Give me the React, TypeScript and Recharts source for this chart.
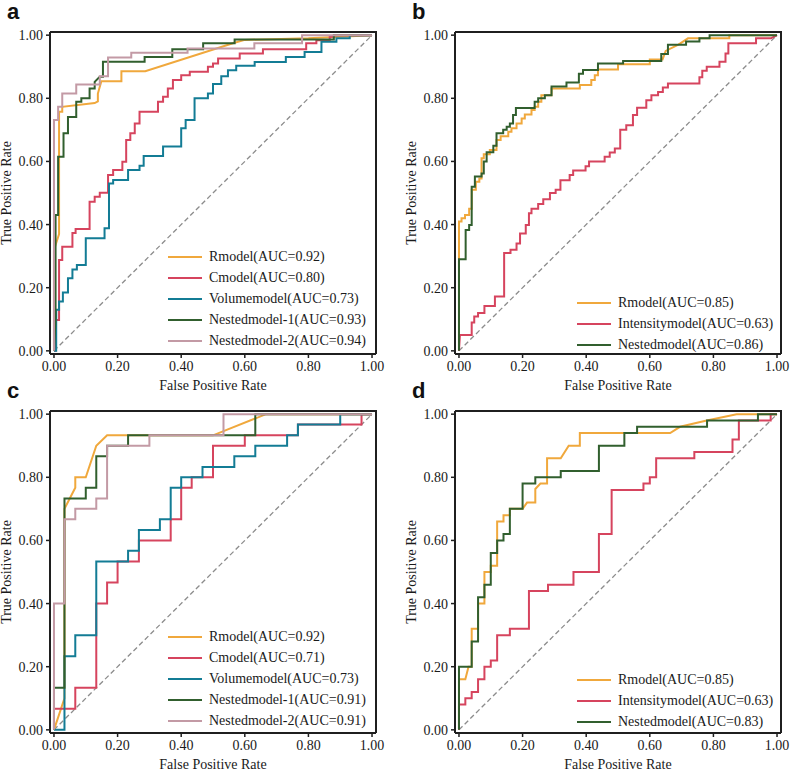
import { Legend, Line, LineChart, ReferenceLine, XAxis, YAxis } from 'recharts'

type Pt = [number, number]

const SERIF = '"Liberation Serif", "Times New Roman", serif'
const SANS = '"Liberation Sans", Arial, sans-serif'

const AXIS_TICKS = [0, 0.2, 0.4, 0.6, 0.8, 1]

// colours of the models (same across the four panels)
const ORANGE = '#F0A83C'
const RED = '#D6445E'
const TEAL = '#137C95'
const GREEN = '#315F2E'
const PINK = '#C39AA5'

// ---- panel a : training set, five models (fpr, tpr)
const rmodelA: Pt[] = [
  [0, 0], [0, 0.32], [0.016, 0.37], [0.016, 0.757], [0.026, 0.757], [0.026, 0.773],
  [0.128, 0.785], [0.138, 0.79], [0.138, 0.815], [0.149, 0.854], [0.212, 0.854],
  [0.212, 0.886], [0.287, 0.886], [0.565, 0.975], [0.6, 0.985], [0.8, 0.99], [1, 1],
]
const cmodelA: Pt[] = [
  [0, 0], [0.005, 0], [0.005, 0.098], [0.016, 0.098], [0.016, 0.288], [0.026, 0.288],
  [0.026, 0.33], [0.058, 0.33], [0.058, 0.373], [0.068, 0.373], [0.068, 0.386],
  [0.112, 0.386], [0.112, 0.472], [0.128, 0.472], [0.128, 0.488], [0.144, 0.488],
  [0.144, 0.501], [0.17, 0.501], [0.17, 0.557], [0.186, 0.557], [0.186, 0.573],
  [0.215, 0.573], [0.215, 0.599], [0.227, 0.599], [0.227, 0.668], [0.24, 0.668],
  [0.24, 0.689], [0.254, 0.689], [0.254, 0.72], [0.269, 0.72], [0.269, 0.757],
  [0.327, 0.757], [0.327, 0.789], [0.343, 0.789], [0.343, 0.805], [0.358, 0.805],
  [0.358, 0.831], [0.374, 0.831], [0.374, 0.858], [0.4, 0.858], [0.4, 0.873],
  [0.427, 0.873], [0.427, 0.884], [0.484, 0.884], [0.484, 0.9], [0.5, 0.9], [0.5, 0.91],
  [0.516, 0.91], [0.516, 0.926], [0.584, 0.926], [0.584, 0.942], [0.657, 0.942],
  [0.657, 0.955], [0.793, 0.955], [0.793, 0.974], [0.825, 0.974], [0.825, 0.984],
  [0.867, 0.984], [0.867, 0.995], [0.88, 0.995], [0.88, 1], [1, 1],
]
const volumeA: Pt[] = [
  [0, 0], [0.007, 0], [0.007, 0.13], [0.016, 0.13], [0.016, 0.156], [0.028, 0.156],
  [0.028, 0.185], [0.044, 0.185], [0.044, 0.23], [0.058, 0.23], [0.058, 0.258],
  [0.072, 0.258], [0.072, 0.272], [0.1, 0.272], [0.1, 0.357], [0.159, 0.357],
  [0.159, 0.388], [0.173, 0.388], [0.173, 0.53], [0.186, 0.53], [0.186, 0.541],
  [0.233, 0.541], [0.233, 0.573], [0.269, 0.573], [0.269, 0.586], [0.282, 0.586],
  [0.282, 0.617], [0.343, 0.617], [0.343, 0.647], [0.4, 0.647], [0.4, 0.705],
  [0.414, 0.705], [0.414, 0.731], [0.442, 0.731], [0.442, 0.8], [0.484, 0.8],
  [0.484, 0.815], [0.5, 0.815], [0.5, 0.845], [0.526, 0.845], [0.526, 0.87],
  [0.547, 0.87], [0.547, 0.889], [0.573, 0.889], [0.573, 0.903], [0.631, 0.903],
  [0.631, 0.915], [0.729, 0.915], [0.729, 0.931], [0.788, 0.931], [0.788, 0.947],
  [0.841, 0.947], [0.841, 0.979], [0.888, 0.979], [0.888, 0.99], [0.93, 0.99],
  [0.93, 1], [1, 1],
]
const nested1A: Pt[] = [
  [0, 0], [0.005, 0.1], [0.005, 0.43], [0.013, 0.43], [0.013, 0.615], [0.03, 0.615],
  [0.03, 0.689], [0.044, 0.689], [0.044, 0.741], [0.07, 0.741], [0.07, 0.789],
  [0.086, 0.789], [0.086, 0.8], [0.112, 0.8], [0.112, 0.831], [0.128, 0.831],
  [0.128, 0.852], [0.144, 0.868], [0.154, 0.868], [0.154, 0.916], [0.285, 0.916],
  [0.285, 0.931], [0.372, 0.931], [0.372, 0.955], [0.469, 0.955], [0.469, 0.974],
  [0.568, 0.974], [0.568, 0.986], [0.88, 0.986], [0.88, 1], [1, 1],
]
const nested2A: Pt[] = [
  [0, 0], [0, 0.731], [0.013, 0.731], [0.013, 0.773], [0.026, 0.773], [0.026, 0.815],
  [0.07, 0.815], [0.07, 0.844], [0.144, 0.844], [0.144, 0.87], [0.17, 0.87],
  [0.17, 0.929], [0.243, 0.929], [0.243, 0.944], [0.42, 0.944], [0.42, 0.958],
  [0.63, 0.958], [0.63, 0.974], [0.78, 0.974], [0.78, 1], [1, 1],
]

// ---- panel b : training set, three models
const rmodelB: Pt[] = [
  [0, 0], [0, 0.41], [0.008, 0.41], [0.008, 0.42], [0.019, 0.42], [0.019, 0.43],
  [0.032, 0.43], [0.032, 0.45], [0.04, 0.45], [0.04, 0.51], [0.053, 0.51],
  [0.053, 0.536], [0.064, 0.536], [0.064, 0.546], [0.071, 0.546], [0.071, 0.61],
  [0.078, 0.61], [0.078, 0.623], [0.097, 0.623], [0.097, 0.636], [0.118, 0.636],
  [0.118, 0.668], [0.131, 0.668], [0.131, 0.68], [0.155, 0.68], [0.155, 0.694],
  [0.165, 0.694], [0.165, 0.705], [0.181, 0.705], [0.181, 0.72], [0.197, 0.72],
  [0.197, 0.736], [0.207, 0.736], [0.207, 0.749], [0.228, 0.749], [0.228, 0.763],
  [0.238, 0.763], [0.238, 0.773], [0.249, 0.773], [0.249, 0.789], [0.259, 0.789],
  [0.259, 0.81], [0.291, 0.81], [0.291, 0.831], [0.38, 0.831], [0.38, 0.842],
  [0.416, 0.842], [0.416, 0.858], [0.427, 0.858], [0.427, 0.873], [0.437, 0.873],
  [0.437, 0.891], [0.5, 0.891], [0.5, 0.908], [0.6, 0.908], [0.6, 0.923],
  [0.64, 0.923], [0.65, 0.95], [0.69, 0.97], [0.72, 0.99], [0.85, 0.99], [0.85, 1], [1, 1],
]
const intensityB: Pt[] = [
  [0, 0], [0.003, 0.05], [0.04, 0.05], [0.04, 0.09], [0.048, 0.09], [0.048, 0.109],
  [0.06, 0.109], [0.06, 0.12], [0.08, 0.12], [0.08, 0.142], [0.113, 0.142],
  [0.113, 0.172], [0.142, 0.172], [0.142, 0.31], [0.162, 0.31], [0.162, 0.32],
  [0.181, 0.32], [0.181, 0.34], [0.192, 0.34], [0.192, 0.372], [0.21, 0.372],
  [0.21, 0.399], [0.22, 0.399], [0.22, 0.436], [0.228, 0.436], [0.228, 0.45],
  [0.249, 0.45], [0.249, 0.465], [0.265, 0.465], [0.265, 0.48], [0.286, 0.48],
  [0.286, 0.5], [0.304, 0.5], [0.304, 0.51], [0.319, 0.51], [0.319, 0.54],
  [0.348, 0.54], [0.348, 0.557], [0.359, 0.557], [0.359, 0.571], [0.398, 0.571],
  [0.398, 0.585], [0.409, 0.585], [0.409, 0.6], [0.458, 0.6], [0.458, 0.615],
  [0.474, 0.615], [0.474, 0.628], [0.49, 0.628], [0.49, 0.641], [0.507, 0.641],
  [0.507, 0.7], [0.526, 0.7], [0.526, 0.715], [0.547, 0.715], [0.547, 0.747],
  [0.56, 0.747], [0.56, 0.77], [0.589, 0.77], [0.589, 0.794], [0.605, 0.794],
  [0.605, 0.81], [0.626, 0.81], [0.626, 0.82], [0.641, 0.82], [0.641, 0.834],
  [0.657, 0.834], [0.657, 0.847], [0.756, 0.847], [0.756, 0.867], [0.765, 0.867],
  [0.765, 0.887], [0.779, 0.887], [0.779, 0.9], [0.819, 0.9], [0.819, 0.916],
  [0.838, 0.916], [0.838, 0.942], [0.847, 0.942], [0.847, 0.974], [0.934, 0.974],
  [0.934, 0.99], [0.981, 0.99], [1, 1],
]
const nestedB: Pt[] = [
  [0, 0], [0, 0.29], [0.021, 0.29], [0.021, 0.383], [0.032, 0.383], [0.032, 0.399],
  [0.04, 0.399], [0.04, 0.52], [0.05, 0.52], [0.05, 0.552], [0.071, 0.552],
  [0.071, 0.562], [0.078, 0.562], [0.078, 0.6], [0.087, 0.6], [0.087, 0.629],
  [0.108, 0.629], [0.108, 0.65], [0.118, 0.65], [0.118, 0.689], [0.139, 0.689],
  [0.139, 0.7], [0.15, 0.7], [0.15, 0.71], [0.16, 0.71], [0.16, 0.72], [0.17, 0.72],
  [0.17, 0.747], [0.179, 0.747], [0.179, 0.769], [0.238, 0.769], [0.238, 0.789],
  [0.249, 0.789], [0.249, 0.8], [0.27, 0.8], [0.27, 0.81], [0.291, 0.81],
  [0.291, 0.837], [0.338, 0.837], [0.338, 0.85], [0.377, 0.85], [0.377, 0.878],
  [0.39, 0.878], [0.39, 0.89], [0.437, 0.89], [0.437, 0.91], [0.516, 0.91],
  [0.516, 0.918], [0.636, 0.918], [0.636, 0.94], [0.657, 0.94], [0.657, 0.97],
  [0.714, 0.97], [0.714, 0.98], [0.756, 0.98], [0.756, 0.99], [0.788, 0.99],
  [0.788, 1], [1, 1],
]

// ---- panel c : validation set, five models
const rmodelC: Pt[] = [
  [0, 0], [0.033, 0.1], [0.033, 0.7], [0.067, 0.767], [0.067, 0.8], [0.1, 0.8],
  [0.133, 0.9], [0.167, 0.933], [0.5, 0.933], [0.667, 1], [1, 1],
]
const cmodelC: Pt[] = [
  [0, 0], [0, 0.067], [0.067, 0.067], [0.067, 0.133], [0.133, 0.133], [0.133, 0.4],
  [0.167, 0.4], [0.167, 0.467], [0.2, 0.467], [0.2, 0.533], [0.267, 0.533],
  [0.267, 0.6], [0.367, 0.6], [0.367, 0.667], [0.4, 0.667], [0.4, 0.767],
  [0.433, 0.767], [0.433, 0.8], [0.5, 0.8], [0.5, 0.9], [0.6, 0.9], [0.6, 0.933],
  [0.767, 0.933], [0.767, 0.967], [0.967, 0.967], [0.967, 1], [1, 1],
]
const volumeC: Pt[] = [
  [0, 0], [0.033, 0], [0.033, 0.233], [0.067, 0.233], [0.067, 0.3], [0.133, 0.3],
  [0.133, 0.533], [0.233, 0.533], [0.233, 0.567], [0.267, 0.567], [0.267, 0.633],
  [0.333, 0.633], [0.333, 0.667], [0.367, 0.667], [0.367, 0.767], [0.4, 0.767],
  [0.4, 0.8], [0.467, 0.8], [0.467, 0.833], [0.567, 0.833], [0.567, 0.867],
  [0.633, 0.867], [0.633, 0.9], [0.733, 0.9], [0.733, 0.933], [0.767, 0.933],
  [0.767, 0.967], [0.9, 0.967], [0.9, 1], [1, 1],
]
const nested1C: Pt[] = [
  [0, 0], [0, 0.133], [0.033, 0.133], [0.033, 0.733], [0.1, 0.733], [0.1, 0.767],
  [0.133, 0.767], [0.133, 0.867], [0.167, 0.867], [0.167, 0.9], [0.233, 0.9],
  [0.233, 0.933], [0.633, 0.933], [0.633, 1], [1, 1],
]
const nested2C: Pt[] = [
  [0, 0], [0, 0.4], [0.033, 0.4], [0.033, 0.667], [0.067, 0.667], [0.067, 0.7],
  [0.133, 0.7], [0.133, 0.733], [0.167, 0.733], [0.167, 0.9], [0.3, 0.9],
  [0.3, 0.933], [0.533, 0.933], [0.533, 1], [1, 1],
]

// ---- panel d : validation set, three models
const rmodelD: Pt[] = [
  [0, 0], [0, 0.16], [0.02, 0.16], [0.03, 0.2], [0.04, 0.2], [0.04, 0.32],
  [0.06, 0.32], [0.06, 0.4], [0.08, 0.4], [0.08, 0.5], [0.1, 0.5], [0.1, 0.52],
  [0.12, 0.52], [0.12, 0.66], [0.14, 0.66], [0.14, 0.68], [0.16, 0.68], [0.16, 0.7],
  [0.2, 0.7], [0.214, 0.72], [0.24, 0.72], [0.24, 0.763], [0.256, 0.78], [0.277, 0.78],
  [0.277, 0.86], [0.32, 0.86], [0.345, 0.9], [0.38, 0.9], [0.38, 0.94], [0.664, 0.94],
  [0.695, 0.96], [0.779, 0.98], [0.873, 1], [1, 1],
]
const intensityD: Pt[] = [
  [0, 0], [0, 0.08], [0.02, 0.08], [0.02, 0.1], [0.04, 0.1], [0.04, 0.12],
  [0.06, 0.12], [0.06, 0.16], [0.08, 0.16], [0.08, 0.2], [0.1, 0.2], [0.1, 0.22],
  [0.12, 0.22], [0.12, 0.3], [0.16, 0.3], [0.16, 0.32], [0.22, 0.32], [0.22, 0.44],
  [0.28, 0.44], [0.28, 0.46], [0.36, 0.46], [0.36, 0.5], [0.44, 0.5], [0.44, 0.62],
  [0.48, 0.62], [0.48, 0.76], [0.58, 0.76], [0.58, 0.78], [0.6, 0.78], [0.6, 0.8],
  [0.62, 0.8], [0.62, 0.86], [0.74, 0.86], [0.74, 0.88], [0.86, 0.88], [0.86, 0.92],
  [0.88, 0.92], [0.88, 0.98], [0.98, 0.98], [0.98, 1], [1, 1],
]
const nestedD: Pt[] = [
  [0, 0], [0, 0.2], [0.04, 0.2], [0.04, 0.28], [0.06, 0.28], [0.06, 0.42],
  [0.08, 0.42], [0.08, 0.46], [0.1, 0.46], [0.1, 0.56], [0.12, 0.56], [0.12, 0.6],
  [0.14, 0.6], [0.14, 0.62], [0.16, 0.62], [0.16, 0.7], [0.2, 0.7], [0.2, 0.78],
  [0.24, 0.78], [0.24, 0.8], [0.32, 0.8], [0.32, 0.82], [0.44, 0.82], [0.44, 0.9],
  [0.52, 0.9], [0.52, 0.94], [0.56, 0.94], [0.56, 0.96], [0.78, 0.96], [0.78, 0.98],
  [0.94, 0.98], [0.94, 1], [1, 1],
]

type Curva = { name: string; color: string; pts: Pt[] }

type PanelProps = {
  letra: string
  left: number
  top: number
  curvas: Curva[]
  legendaLeft: number
  legendaTop: number
}

// tamanho do gráfico e da área de plotagem (margens + eixos)
const CHART_W = 396
const CHART_H = 400
const MARGEM = { top: 32, right: 20, bottom: 0, left: 0 }
const Y_AXIS_W = 50
const X_AXIS_H = 46
const PLOT_W = CHART_W - MARGEM.left - MARGEM.right - Y_AXIS_W
const PLOT_H = CHART_H - MARGEM.top - MARGEM.bottom - X_AXIS_H

const X_DOMAIN: [number, number] = [-0.0125, 1.0125]
const Y_DOMAIN: [number, number] = [-0.01, 1.01]
const AXIS_COLOR = '#1f1f1f'
const AXIS_LINE = { stroke: AXIS_COLOR, strokeWidth: 2 }
const TICK_LINE = { stroke: AXIS_COLOR, strokeWidth: 1.5 }
const TICK_STYLE = { fontSize: 14, fill: '#1a1a1a', fontFamily: SERIF }

// legenda no canto inferior direito, na mesma ordem em que as curvas são desenhadas
function LegendaRoc({ itens }: { itens: Curva[] }) {
  return (
    <div style={{ fontFamily: SERIF, fontSize: 14, color: '#1a1a1a' }}>
      {itens.map((c) => (
        <div
          key={c.name}
          style={{ display: 'flex', alignItems: 'center', height: 21, whiteSpace: 'nowrap' }}
        >
          <svg width={34} height={4} style={{ marginRight: 7 }}>
            <line x1={0} y1={2} x2={34} y2={2} stroke={c.color} strokeWidth={2.2} />
          </svg>
          <span>{c.name}</span>
        </div>
      ))}
    </div>
  )
}

function PainelRoc({ letra, left, top, curvas, legendaLeft, legendaTop }: PanelProps) {
  return (
    <>
      <div
        style={{
          position: 'absolute',
          left: left + 7,
          top: top + 1,
          fontFamily: SANS,
          fontWeight: 700,
          fontSize: 22,
          lineHeight: '22px',
          color: '#111',
        }}
      >
        {letra}
      </div>
      <div style={{ position: 'absolute', left, top, fontFamily: SERIF }}>
        <LineChart width={CHART_W} height={CHART_H} margin={MARGEM} style={{ fontFamily: SERIF }}>
          <XAxis
            dataKey="x"
            type="number"
            domain={X_DOMAIN}
            allowDataOverflow
            ticks={AXIS_TICKS}
            tickFormatter={(v: number) => v.toFixed(2)}
            tick={TICK_STYLE}
            axisLine={AXIS_LINE}
            tickLine={TICK_LINE}
            tickSize={4}
            tickMargin={3}
            height={X_AXIS_H}
            label={{
              value: 'False Positive Rate',
              position: 'center',
              dy: 8,
              style: { fontSize: 14, fill: '#1a1a1a', fontFamily: SERIF },
            }}
          />
          <YAxis
            type="number"
            domain={Y_DOMAIN}
            allowDataOverflow
            ticks={AXIS_TICKS}
            tickFormatter={(v: number) => v.toFixed(2)}
            tick={TICK_STYLE}
            axisLine={AXIS_LINE}
            tickLine={TICK_LINE}
            tickSize={4}
            tickMargin={3}
            width={Y_AXIS_W}
            label={{
              value: 'True Positive Rate',
              angle: -90,
              position: 'center',
              dx: -19,
              style: { fontSize: 14, fill: '#1a1a1a', fontFamily: SERIF },
            }}
          />
          <ReferenceLine
            segment={[{ x: 0, y: 0 }, { x: 1, y: 1 }]}
            stroke="#8c8c8c"
            strokeWidth={1.3}
            strokeDasharray="5 3"
          />
          {curvas.map((c) => (
            <Line
              key={c.name}
              data={c.pts.map(([x, y]) => ({ x, y }))}
              dataKey="y"
              name={c.name}
              type="linear"
              stroke={c.color}
              strokeWidth={2}
              dot={false}
              activeDot={false}
              isAnimationActive={false}
            />
          ))}
          <Legend
            layout="vertical"
            align="center"
            verticalAlign="middle"
            content={() => <LegendaRoc itens={curvas} />}
            wrapperStyle={{ left: legendaLeft, top: legendaTop, width: 'auto' }}
          />
        </LineChart>
      </div>
      {/* moldura: borda superior e direita da área de plotagem */}
      <div
        style={{
          position: 'absolute',
          left: left + MARGEM.left + Y_AXIS_W,
          top: top + MARGEM.top - 1,
          width: PLOT_W + 1,
          height: PLOT_H + 1,
          borderTop: `2px solid ${AXIS_COLOR}`,
          borderRight: `2px solid ${AXIS_COLOR}`,
          boxSizing: 'border-box',
          pointerEvents: 'none',
          zIndex: 5,
        }}
      />
    </>
  )
}

export default function App() {
  return (
    <div
      style={{
        position: 'absolute',
        left: 0,
        top: 0,
        width: 792,
        height: 772,
        background: '#fff',
        overflow: 'hidden',
      }}
    >
      <PainelRoc
        letra="a"
        left={0}
        top={0}
        legendaLeft={168}
        legendaTop={246}
        curvas={[
          { name: 'Rmodel(AUC=0.92)', color: ORANGE, pts: rmodelA },
          { name: 'Cmodel(AUC=0.80)', color: RED, pts: cmodelA },
          { name: 'Volumemodel(AUC=0.73)', color: TEAL, pts: volumeA },
          { name: 'Nestedmodel-1(AUC=0.93)', color: GREEN, pts: nested1A },
          { name: 'Nestedmodel-2(AUC=0.94)', color: PINK, pts: nested2A },
        ]}
      />
      <PainelRoc
        letra="b"
        left={405}
        top={0}
        legendaLeft={172}
        legendaTop={292}
        curvas={[
          { name: 'Rmodel(AUC=0.85)', color: ORANGE, pts: rmodelB },
          { name: 'Intensitymodel(AUC=0.63)', color: RED, pts: intensityB },
          { name: 'Nestedmodel(AUC=0.86)', color: GREEN, pts: nestedB },
        ]}
      />
      <PainelRoc
        letra="c"
        left={0}
        top={379}
        legendaLeft={168}
        legendaTop={247}
        curvas={[
          { name: 'Rmodel(AUC=0.92)', color: ORANGE, pts: rmodelC },
          { name: 'Cmodel(AUC=0.71)', color: RED, pts: cmodelC },
          { name: 'Volumemodel(AUC=0.73)', color: TEAL, pts: volumeC },
          { name: 'Nestedmodel-1(AUC=0.91)', color: GREEN, pts: nested1C },
          { name: 'Nestedmodel-2(AUC=0.91)', color: PINK, pts: nested2C },
        ]}
      />
      <PainelRoc
        letra="d"
        left={405}
        top={379}
        legendaLeft={172}
        legendaTop={290}
        curvas={[
          { name: 'Rmodel(AUC=0.85)', color: ORANGE, pts: rmodelD },
          { name: 'Intensitymodel(AUC=0.63)', color: RED, pts: intensityD },
          { name: 'Nestedmodel(AUC=0.83)', color: GREEN, pts: nestedD },
        ]}
      />
    </div>
  )
}
